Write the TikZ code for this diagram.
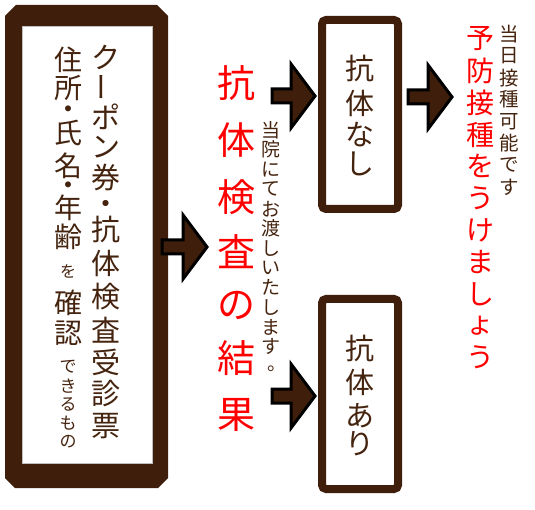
\documentclass[tikz,border=0pt]{standalone}
\usepackage{fontspec}
\usepackage{graphicx}
\newfontfamily\jp{Noto Sans CJK JP}
\usetikzlibrary{calc}
\definecolor{brn}{HTML}{3F1E0B}
\definecolor{txt}{HTML}{45240F}
\definecolor{jred}{HTML}{FF0000}
\newcommand\vbar{\rotatebox[origin=c]{90}{ー}}
\newcommand\fatarrow[2]{%
  \draw[fatarr] let \p1=(#1), \p2=(#2) in
    (\x1,\y2+7pt) -- (\x2-24pt,\y2+7pt) -- (\x2-24pt,\y2+32pt) -- (\x2,\y2)
    -- (\x2-24pt,\y2-32pt) -- (\x2-24pt,\y2-7pt) -- (\x1,\y2-7pt) -- cycle;}
\begin{document}
\begin{tikzpicture}[x=1pt,y=-1pt,
  chs/.style={inner sep=0pt, outer sep=0pt, anchor=center, font=\jp\fontsize{#1}{#1}\selectfont},
  fatarr/.style={fill=brn, draw=black, line width=3pt, line join=miter},
  rbox/.style={draw=brn, line width=8pt, rounded corners=4pt, minimum width=76pt, inner sep=0pt, fill=white}]
\useasboundingbox (0,0) rectangle (535,510);

% left box
\node[minimum width=163pt, minimum height=483pt, inner sep=0pt, outer sep=0pt] (L) at (86.5,246.5) {};
\fill[brn] ([xshift=11pt]L.north west) -- ([xshift=-11pt]L.north east) -- ([yshift=-11pt]L.north east)
  -- ([yshift=10pt]L.south east) -- ([xshift=-10pt]L.south east) -- ([xshift=10pt]L.south west)
  -- ([yshift=10pt]L.south west) -- ([yshift=-11pt]L.north west) -- cycle;
\node[fill=white, draw=black!25, line width=0.5pt, minimum width=130pt, minimum height=437pt, inner sep=0pt] (Lin) at (87,245) {};

% right boxes
\node[rbox, minimum height=189pt] (N) at (360,114.5) {};
\node[rbox, minimum height=190pt] (A) at (360,394) {};

% left box text (the middle dots are raised in the font, so they are set 4pt lower)
\foreach \ch/\yy [count=\i] in {ク/57,\vbar/87,ポ/117,ン/147,券/177,・/207,抗/229,体/263,検/297,査/330,受/362,診/394,票/426}
  \node[chs=29, text=txt] (ka\i) at (106,\yy) {\ch};
\foreach \ch/\yy [count=\i] in {住/60,所/88,・/113,氏/133,名/166,・/189,年/208,齢/237}
  \node[chs=28, text=txt] (kb\i) at (68,\yy) {\ch};
\node[chs=16, text=txt] (wo) at (68,271) {を};
\foreach \ch/\yy [count=\i] in {確/303,認/333}
  \node[chs=28, text=txt] (kc\i) at (68,\yy) {\ch};
\foreach \ch/\yy [count=\i] in {で/367,き/386,る/404,も/423,の/442}
  \node[chs=17, text=txt] (kd\i) at (68,\yy) {\ch};

% result
\foreach \ch/\yy [count=\i] in {抗/83,体/140,検/197,査/252,の/305,結/358,果/415}
  \node[chs=38, text=jred] (r\i) at (236,\yy) {\ch};
\foreach \ch [count=\i] in {当,院,に,て,お,渡,し,い,た,し,ま,す}
  \node[chs=19, text=txt] (s\i) at (271,{130+19.7*(\i-1)}) {\ch};
\node[chs=19, text=txt] (s13) at (277,369) {。};

% box texts
\foreach \ch/\yy [count=\i] in {抗/68,体/103,な/135,し/164}
  \node[chs=29, text=txt] (n\i) at (360,\yy) {\ch};
\foreach \ch/\yy [count=\i] in {抗/348,体/382,あ/416,り/444}
  \node[chs=29, text=txt] (a\i) at (360,\yy) {\ch};

% vaccination
\foreach \ch [count=\i] in {予,防,接,種,を,う,け,ま,し,ょ,う}
  \node[chs=28, text=jred] (p\i) at (480,{39+31.85*(\i-1)}) {\ch};
\foreach \ch [count=\i] in {当,日,接,種,可,能,で,す}
  \node[chs=19.5, text=txt] (q\i) at (509,{34+21.86*(\i-1)}) {\ch};

% arrows
\coordinate (a0s) at ([xshift=-6pt]L.east |- 0,247);
\coordinate (a0e) at (207,247);
\coordinate (a1s) at (272,96);
\coordinate (a1e) at ([xshift=-3pt]N.west |- 0,96);
\coordinate (a2s) at (272,396);
\coordinate (a2e) at ([xshift=-3pt]A.west |- 0,396);
\coordinate (a3s) at ([xshift=6pt]N.east |- 0,97);
\coordinate (a3e) at (452,97);
\fatarrow{a0s}{a0e}
\fatarrow{a1s}{a1e}
\fatarrow{a2s}{a2e}
\fatarrow{a3s}{a3e}
\end{tikzpicture}
\end{document}
